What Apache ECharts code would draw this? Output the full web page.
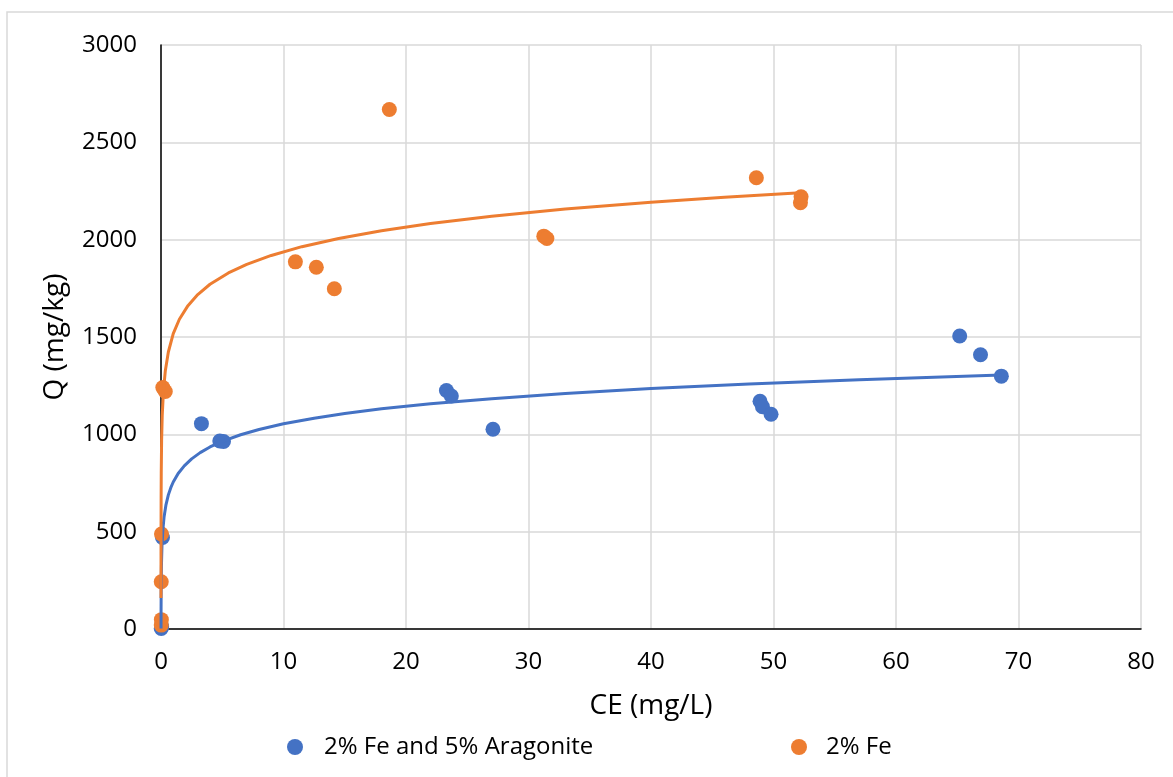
<!DOCTYPE html>
<html>
<head>
<meta charset="utf-8">
<script src="https://cdn.jsdelivr.net/npm/echarts@6/dist/echarts.min.js"></script>
<style>html,body{margin:0;padding:0;background:#fff;}#chart{width:1173px;height:777px;}</style>
</head>
<body>
<div id="chart"></div>
<script>
// Series: 2% Fe and 5% Aragonite
const arX = [0.02, 0.05, 0.12, 3.3, 4.8, 5.1, 23.3, 23.7, 27.1, 48.9, 49.1, 49.8, 65.2, 66.9, 68.6];
const arY = [3, 12, 470, 1055, 966, 963, 1225, 1197, 1026, 1170, 1142, 1103, 1505, 1409, 1299];
// Series: 2% Fe
const feX = [0.02, 0.03, 0.02, 0.04, 0.15, 0.35, 10.97, 12.68, 14.15, 18.64, 31.25, 31.5, 48.6, 52.2, 52.25];
const feY = [20, 48, 243, 488, 1240, 1220, 1886, 1858, 1748, 2669, 2018, 2006, 2318, 2190, 2220];
// Logarithmic trendlines, points
const arTrendX = [0.003, 0.006, 0.01, 0.02, 0.04, 0.08, 0.15, 0.25, 0.4, 0.6, 0.8, 1, 1.4, 1.9, 2.5, 3.2, 4, 5, 6.5, 8, 10, 12.5, 15, 18, 22, 27, 33, 40, 48, 57, 68.6];
const arTrendY = [2, 90, 156, 246, 336, 427, 508, 575, 636, 689, 726, 755, 799, 838, 874, 906, 935, 964, 998, 1025, 1054, 1083, 1107, 1131, 1157, 1183, 1210, 1235, 1258, 1281, 1305];
const feTrendX = [0.0006, 0.001, 0.002, 0.005, 0.01, 0.02, 0.05, 0.1, 0.2, 0.35, 0.6, 1, 1.5, 2.2, 3, 4, 5.5, 7, 9, 11.5, 14.5, 18, 22, 27, 33, 40, 46, 52.2];
const feTrendY = [159, 253, 380, 547, 674, 801, 969, 1096, 1222, 1325, 1423, 1517, 1591, 1661, 1718, 1771, 1829, 1873, 1919, 1964, 2006, 2046, 2083, 2120, 2157, 2192, 2218, 2241];
// Labels
const seriesNames = ['2% Fe and 5% Aragonite', '2% Fe'];
const xTitle = 'CE (mg/L)';
const yTitle = 'Q (mg/kg)';

const zip = (xs, ys) => xs.map((x, i) => [x, ys[i]]);
const BLUE = '#4472C4', ORANGE = '#ED7D31';
const FONT = 'Open Sans';

const chart = echarts.init(document.getElementById('chart'), null, {renderer: 'canvas'});
chart.setOption({
  animation: false,
  backgroundColor: '#fff',
  graphic: [{
    type: 'rect', shape: {x: 7, y: 12, width: 1180, height: 780},
    style: {fill: 'none', stroke: '#D9D9D9', lineWidth: 1.5}, silent: true, z: -10
  }],
  grid: {left: 161, right: 32, top: 45, bottom: 148, containLabel: false},
  legend: [{
    data: [seriesNames[0]], left: 282, top: 730, itemWidth: 16, itemHeight: 16, icon: 'circle',
    textStyle: {fontFamily: FONT, fontSize: 24, color: '#000', padding: [0, 0, 0, 16]}
  }, {
    data: [seriesNames[1]], left: 786, top: 730, itemWidth: 16, itemHeight: 16, icon: 'circle',
    textStyle: {fontFamily: FONT, fontSize: 24, color: '#000', padding: [0, 0, 0, 14]}
  }],
  xAxis: {
    type: 'value', min: 0, max: 80, interval: 10,
    name: xTitle, nameLocation: 'middle', nameGap: 63,
    nameTextStyle: {fontFamily: FONT, fontSize: 28, color: '#000'},
    axisLine: {show: true, onZero: false, lineStyle: {color: '#000', width: 1.5}},
    axisTick: {show: false},
    axisLabel: {fontFamily: FONT, fontSize: 24, color: '#000', margin: 21},
    splitLine: {show: true, lineStyle: {color: '#D9D9D9', width: 1.5}}
  },
  yAxis: {
    type: 'value', min: 0, max: 3000, interval: 500,
    name: yTitle, nameLocation: 'middle', nameGap: 92, nameRotate: 90,
    nameTextStyle: {fontFamily: FONT, fontSize: 28, color: '#000'},
    axisLine: {show: true, onZero: false, lineStyle: {color: '#000', width: 1.5}},
    axisTick: {show: false},
    axisLabel: {fontFamily: FONT, fontSize: 24, color: '#000', margin: 24,
      formatter: v => String(v)},
    splitLine: {show: true, lineStyle: {color: '#D9D9D9', width: 1.5}}
  },
  series: [
    {name: seriesNames[0], type: 'scatter', data: zip(arX, arY), symbolSize: 15,
     itemStyle: {color: BLUE, opacity: 1}, z: 3},
    {name: seriesNames[1], type: 'scatter', data: zip(feX, feY), symbolSize: 15,
     itemStyle: {color: ORANGE, opacity: 1}, z: 4},
    {name: 'arTrend', type: 'line', data: zip(arTrendX, arTrendY), smooth: false,
     showSymbol: false, symbol: 'none', lineStyle: {color: BLUE, width: 3}, z: 5, silent: true},
    {name: 'feTrend', type: 'line', data: zip(feTrendX, feTrendY), smooth: false,
     showSymbol: false, symbol: 'none', lineStyle: {color: ORANGE, width: 3}, z: 6, silent: true}
  ]
});
</script>
</body>
</html>
